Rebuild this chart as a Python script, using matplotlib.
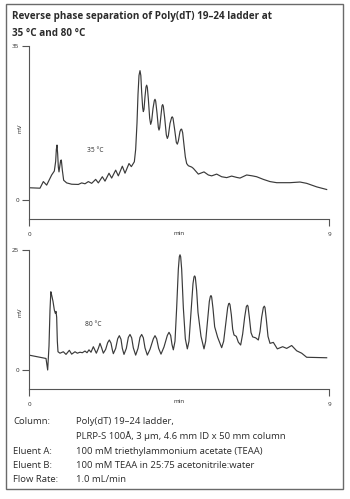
import matplotlib
matplotlib.use("Agg")
import matplotlib.pyplot as plt
from matplotlib.patches import Rectangle

plt.rcParams['font.family'] = ['Open Sans', 'DejaVu Sans']

# ---- data: 35 °C trace (time in min, signal in mV) ----
t35 = [0.0, 0.33, 0.43, 0.53, 0.68, 0.76, 0.80, 0.82, 0.84, 0.86, 0.88, 0.90, 0.92, 0.95,
       0.97, 1.00, 1.04, 1.13, 1.28, 1.48, 1.58, 1.68, 1.78, 1.88, 2.00, 2.08, 2.20, 2.28,
       2.40, 2.48, 2.60, 2.68, 2.80, 2.88, 3.00, 3.07, 3.16, 3.20, 3.24, 3.27, 3.30, 3.33,
       3.355, 3.38, 3.41, 3.43, 3.45, 3.48, 3.51, 3.53, 3.55, 3.58, 3.62, 3.65, 3.68, 3.72,
       3.76, 3.78, 3.80, 3.84, 3.88, 3.90, 3.92, 3.96, 3.99, 4.01, 4.03, 4.07, 4.12, 4.15,
       4.18, 4.23, 4.28, 4.30, 4.32, 4.37, 4.42, 4.45, 4.48, 4.53, 4.56, 4.58, 4.61, 4.65,
       4.69, 4.73, 4.78, 4.88, 4.93, 5.08, 5.25, 5.38, 5.48, 5.63, 5.78, 5.93, 6.08, 6.23,
       6.33, 6.53, 6.70, 6.83, 7.03, 7.23, 7.43, 7.83, 8.13, 8.33, 8.63, 8.93]
mv35 = [2.8, 2.7, 4.2, 3.4, 5.7, 6.6, 8.8, 11.5, 12.5, 10.5, 7.5, 6.4, 7.5, 9.0,
        9.1, 6.8, 4.5, 3.9, 3.6, 3.55, 3.9, 3.7, 4.2, 3.8, 4.7, 3.9, 5.3, 4.3,
        6.1, 5.0, 6.8, 5.5, 7.7, 6.1, 8.3, 7.6, 8.7, 11.5, 17.5, 24.0, 28.3, 29.4,
        28.3, 24.5, 21.0, 20.1, 20.6, 23.5, 25.7, 26.1, 25.6, 23.0, 18.6, 17.2, 18.0, 20.8,
        22.6, 22.9, 22.5, 19.8, 16.5, 15.9, 16.4, 19.3, 21.4, 21.7, 21.3, 18.7, 14.8, 14.0,
        14.6, 17.4, 18.8, 18.9, 18.6, 16.0, 13.1, 12.7, 13.4, 15.6, 16.1, 16.1, 15.3, 12.5,
        9.8, 8.3, 7.8, 7.5, 7.2, 5.9, 6.4, 5.7, 5.5, 5.9, 5.3, 5.1, 5.45, 5.15,
        5.0, 5.7, 5.5, 5.3, 4.7, 4.2, 3.95, 3.95, 4.1, 3.8, 3.0, 2.4]

# ---- data: 80 °C trace ----
t80 = [0.0, 0.51, 0.56, 0.60, 0.63, 0.655, 0.68, 0.72, 0.76, 0.79, 0.81, 0.83, 0.85, 0.87,
       0.93, 1.03, 1.11, 1.21, 1.28, 1.38, 1.45, 1.53, 1.60, 1.68, 1.74, 1.80, 1.86, 1.93,
       2.02, 2.08, 2.13, 2.18, 2.23,
       2.30, 2.36, 2.41, 2.46, 2.50, 2.53,
       2.60, 2.66, 2.71, 2.76, 2.80, 2.85,
       2.92, 2.98, 3.03, 3.08, 3.13, 3.20,
       3.27, 3.33, 3.38, 3.43, 3.48, 3.55,
       3.63, 3.73, 3.78, 3.83, 3.89, 3.96,
       4.05, 4.15, 4.20, 4.25, 4.29, 4.33,
       4.38, 4.43, 4.48, 4.51, 4.53, 4.55, 4.58, 4.63, 4.69, 4.75,
       4.80, 4.86, 4.92, 4.95, 4.97, 4.99, 5.03, 5.07, 5.11, 5.16, 5.25,
       5.30, 5.36, 5.41, 5.44, 5.46, 5.48, 5.52, 5.57, 5.61, 5.66, 5.78,
       5.84, 5.90, 5.96, 5.99, 6.01, 6.03, 6.07, 6.11, 6.15, 6.22, 6.28, 6.35,
       6.41, 6.47, 6.52, 6.55, 6.57, 6.61, 6.66, 6.71, 6.80, 6.88,
       6.93, 6.98, 7.03, 7.06, 7.08, 7.12, 7.17, 7.23,
       7.33, 7.45, 7.61, 7.73, 7.88, 8.03, 8.18, 8.33, 8.93]
mv80 = [3.1, 2.4, 0.0, 5.0, 12.5, 16.3, 15.6, 14.3, 12.5, 11.8, 12.2, 11.0, 6.0, 3.8,
        3.5, 3.8, 3.25, 4.1, 3.3, 3.8, 3.5, 3.7, 3.6, 3.95, 3.6, 4.2, 3.7, 4.85,
        3.5, 4.5, 5.55, 4.6, 3.5,
        4.3, 5.7, 6.25, 5.6, 4.2, 3.4,
        4.5, 6.5, 7.15, 6.4, 4.5, 3.25,
        4.5, 6.8, 7.4, 6.7, 4.6, 3.1,
        4.5, 6.8, 7.4, 6.7, 4.6, 3.1,
        4.3, 6.5, 7.15, 6.5, 4.5, 3.3,
        4.8, 7.2, 7.85, 7.2, 5.3, 4.2,
        6.0, 13.0, 21.0, 23.6, 24.0, 23.6, 21.0, 13.0, 6.5, 4.4,
        6.0, 12.0, 18.0, 19.4, 19.6, 19.3, 16.5, 12.0, 9.7, 7.0, 4.4,
        6.0, 10.5, 14.3, 15.3, 15.5, 15.2, 12.8, 9.0, 8.0, 6.8, 4.65,
        6.0, 9.5, 13.0, 13.8, 13.9, 13.6, 11.5, 8.5, 7.3, 7.0, 5.8, 5.2,
        7.5, 11.0, 13.2, 13.5, 13.3, 11.0, 7.8, 6.9, 6.7, 6.25,
        8.0, 11.0, 13.0, 13.3, 13.0, 10.5, 7.0, 5.55,
        5.75, 4.4, 4.85, 4.5, 5.1, 4.0, 3.5, 2.65, 2.55]

title_lines = ["Reverse phase separation of Poly(dT) 19\u201324 ladder at", "35 \u00b0C and 80 \u00b0C"]
info_labels = ["Column:", "", "Eluent A:", "Eluent B:", "Flow Rate:"]
info_values = ["Poly(dT) 19\u201324 ladder,",
               "PLRP-S 100\u00c5, 3 \u00b5m, 4.6 mm ID x 50 mm column",
               "100 mM triethylammonium acetate (TEAA)",
               "100 mM TEAA in 25:75 acetonitrile:water",
               "1.0 mL/min"]

W, H = 350, 499
fig = plt.figure(figsize=(W / 100, H / 100), dpi=100)
fig.patch.set_facecolor('white')

def fx(px):
    return px / W

def fy(py):
    return 1 - py / H

# border
fig.patches.append(Rectangle((fx(6), fy(489)), fx(343) - fx(6), fy(4) - fy(489),
                             transform=fig.transFigure, fill=False,
                             edgecolor='#6a6a6a', linewidth=1.0))

txt = '#2b2b2b'
axc = '#555555'
fig.text(fx(12), fy(16), title_lines[0], fontsize=7.1, fontweight='bold', color=txt,
         va='center', ha='left')
fig.text(fx(12), fy(33), title_lines[1], fontsize=7.1, fontweight='bold', color=txt,
         va='center', ha='left')

def panel(top_px, bot_px, ylim, yt, t, v, label, label_xy, mv_y):
    ax = fig.add_axes([fx(29), fy(bot_px), fx(329) - fx(29), fy(top_px) - fy(bot_px)])
    ax.plot(t, v, color='#3a3a3a', linewidth=0.85, solid_joinstyle='round')
    ax.set_xlim(0, 9)
    ax.set_ylim(*ylim)
    for s in ['top', 'right']:
        ax.spines[s].set_visible(False)
    for s in ['left', 'bottom']:
        ax.spines[s].set_color(axc)
        ax.spines[s].set_linewidth(0.8)
    ax.set_yticks(yt)
    ax.set_yticklabels([str(x) for x in yt])
    ax.set_xticks([0, 9])
    ax.set_xticklabels(['0', '9'])
    ax.tick_params(axis='both', length=5, width=0.8, color=axc, labelsize=4.5,
                   labelcolor=txt, pad=2)
    ax.tick_params(axis='x', pad=4)
    ax.text(4.5, -0.07, 'min', transform=ax.get_xaxis_transform(), fontsize=4.5,
            color=txt, ha='center', va='top')
    fig.text(fx(20), fy(mv_y), 'mV', fontsize=4.5, color=txt, rotation=90,
             ha='center', va='center')
    ax.text(label_xy[0], label_xy[1], label, fontsize=4.8, color=txt,
            ha='center', va='center')
    ax.patch.set_alpha(0)
    return ax

panel(46, 219, (-4.3, 35), [0, 35], t35, mv35, '35 \u00b0C', (1.98, 11.3), 128)
panel(250, 389, (-3.96, 25), [0, 25], t80, mv80, '80 \u00b0C', (1.92, 9.4), 312)

rows = [422, 436, 451, 466, 480]
for y, lab, val in zip(rows, info_labels, info_values):
    if lab:
        fig.text(fx(13), fy(y), lab, fontsize=6.8, color=txt, va='center', ha='left')
    fig.text(fx(76), fy(y), val, fontsize=6.8, color=txt, va='center', ha='left')

fig.savefig('out.png', dpi=100, facecolor='white')
